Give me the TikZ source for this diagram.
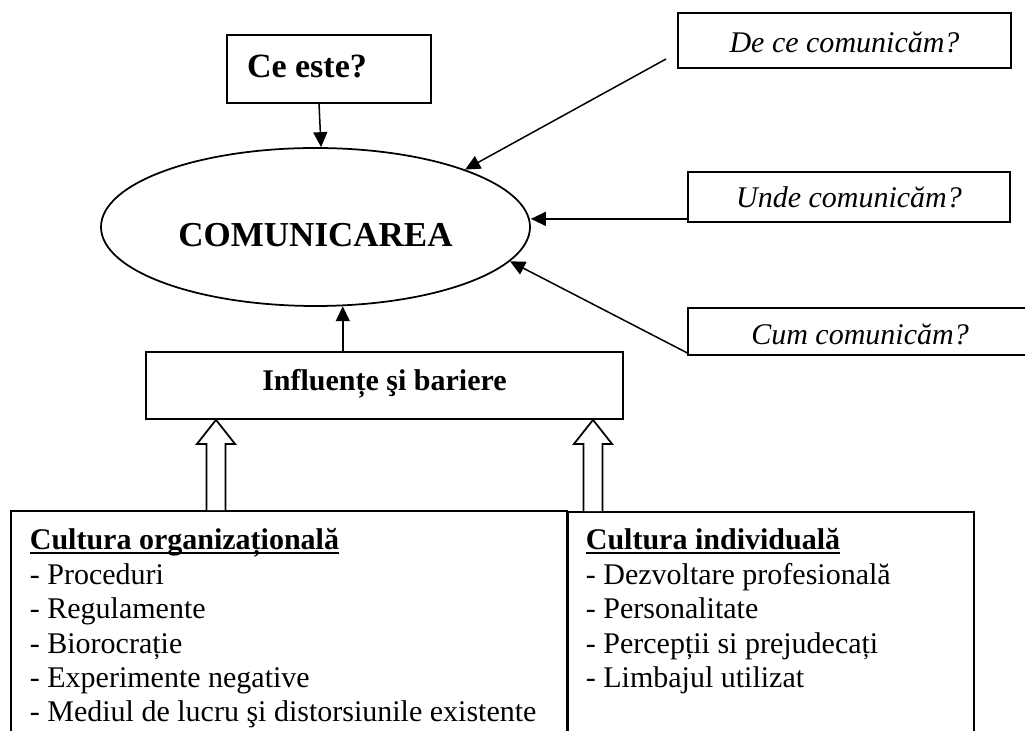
\documentclass[tikz,border=0pt]{standalone}
\usepackage{fontspec}
\setmainfont{Liberation Serif}
\usetikzlibrary{arrows.meta,calc,shapes.geometric}
\newsavebox\ulbox
\newcommand\myul[1]{\leavevmode\sbox\ulbox{#1}\rlap{\usebox\ulbox}\rule[-1.6pt]{\wd\ulbox}{0.8pt}}
\begin{document}
\begin{tikzpicture}[x=0.4pt,y=-0.4pt,
  box/.style={draw, line width=0.7pt, rectangle, inner sep=0pt, text depth=0pt},
  conn/.style={line width=0.6pt, -{Triangle[length=6pt,width=5.6pt]}},
  harrow/.style={draw, line width=0.7pt, fill=white, line join=miter},
  body/.style={font=\fontsize{12}{13.76}\selectfont},
  colbox/.style={draw, line width=0.7pt, rectangle, anchor=north west, inner ysep=0pt, text depth=100pt, body}]
\useasboundingbox (0,0) rectangle (1025,731);

% bottom boxes
\node[colbox, minimum width=222.4pt, inner xsep=7.6pt, text height=15.6pt] (org) at (10,510)
  {\parbox[t]{207.2pt}{\myul{\textbf{Cultura organizațională}}\\
   - Proceduri\\
   - Regulamente\\
   - Biorocrație\\
   - Experimente negative\\
   - Mediul de lucru şi distorsiunile existente}};
\node[colbox, minimum width=162.4pt, inner xsep=7.2pt, text height=15.2pt] (ind) at (567,511)
  {\parbox[t]{148pt}{\myul{\textbf{Cultura individuală}}\\
   - Dezvoltare profesională\\
   - Personalitate\\
   - Percepții si prejudecați\\
   - Limbajul utilizat}};

% top elements
\node[box, minimum width=81.6pt, minimum height=27.2pt, text height=7.2pt,
  font=\fontsize{13.6}{16}\selectfont\bfseries] (ce) at (329,69) {\makebox[65.6pt][l]{Ce este?}};
\node[draw, ellipse, line width=0.7pt, inner sep=0pt, minimum width=171.6pt, minimum height=63.2pt,
  text height=16pt, text depth=0pt, font=\fontsize{14}{16}\selectfont\bfseries] (comm) at (315.5,227) {COMUNICAREA};
\node[box, minimum width=133.2pt, minimum height=22pt, text height=10pt,
  font=\fontsize{12}{14}\selectfont\itshape] (dece) at (844.5,40.5) {De ce comunicăm?};
\node[box, minimum width=128.8pt, minimum height=20pt, text height=8.8pt,
  font=\fontsize{12}{14}\selectfont\itshape] (unde) at (849,197) {Unde comunicăm?};
\node[box, minimum width=137.6pt, minimum height=18.8pt, text height=10.8pt,
  font=\fontsize{12}{14}\selectfont\itshape] (cum) at (860,331.5) {Cum comunicăm?};
\node[box, minimum width=190.8pt, minimum height=26.8pt, text height=4.4pt,
  font=\fontsize{12}{14}\selectfont\bfseries] (infl) at (384.5,385.5) {Influențe şi bariere};

% connectors
\coordinate (dcs) at (666,59);
\draw[conn] (dcs) -- (comm.21);
\draw[conn] ([xshift=-4pt]ce.south) -- (comm.86);
\coordinate (us) at ($(unde.south west)+(0,-4)$);
\draw[conn] (us) -- (us -| comm.east);
\draw[conn] ($(cum.south west)+(0,-3)$) -- (comm.-10);
\draw[conn] (infl.north -| comm.-71) -- (comm.-71);

% hollow block arrows
\foreach \cx/\bx in {216/org,593/ind} {
  \draw[harrow] (\bx.north -| \cx-9.5,0) -- ($(infl.south -| \cx-9.5,0)+(0,24)$)
    -- ($(infl.south -| \cx-19,0)+(0,24)$) -- (infl.south -| \cx,0)
    -- ($(infl.south -| \cx+19,0)+(0,24)$) -- ($(infl.south -| \cx+9.5,0)+(0,24)$)
    -- (\bx.north -| \cx+9.5,0);
}
\end{tikzpicture}
\end{document}
